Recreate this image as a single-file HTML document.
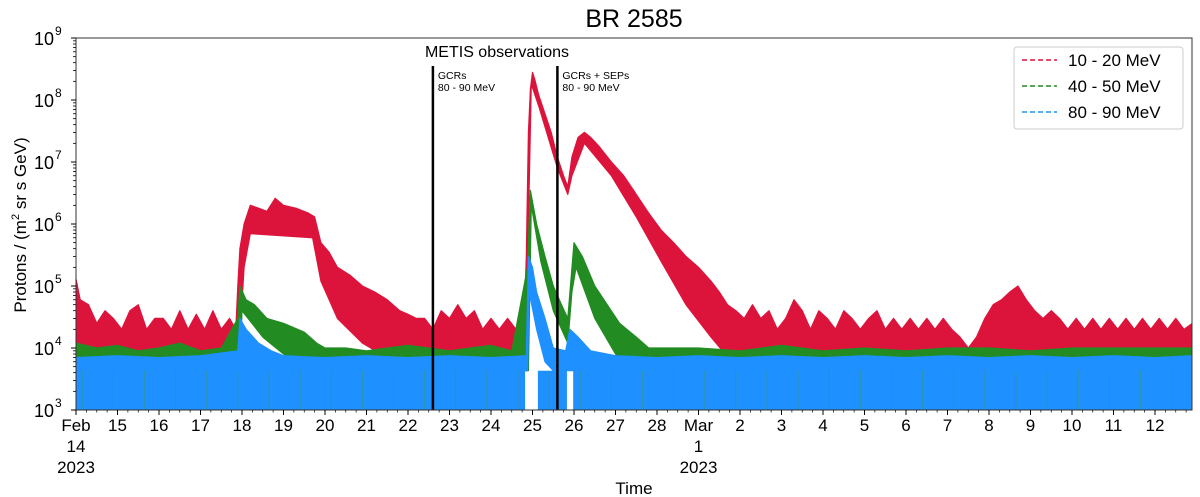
<!DOCTYPE html>
<html><head><meta charset="utf-8">
<style>
html,body{margin:0;padding:0;background:#fff;}
svg{display:block;font-family:"Liberation Sans","DejaVu Sans",sans-serif;}
</style></head>
<body>
<svg id="chart" width="1200" height="497" viewBox="0 0 1200 497" xmlns="http://www.w3.org/2000/svg">
<text x="634" y="27" font-size="25" text-anchor="middle" fill="#000">BR 2585</text>
<g id="plot"></g>
<g id="axes"></g>
<text transform="translate(26,225) rotate(-90)" font-size="17" text-anchor="middle">Protons / (m<tspan font-size="11" dy="-7">2</tspan><tspan dy="7"> sr s GeV)</tspan></text>
<text x="634" y="494" font-size="17" text-anchor="middle">Time</text>
<g>
<rect x="1014" y="47" width="169" height="82" rx="3" fill="#fff" stroke="#ccc" stroke-width="1"/>
<line x1="1022" y1="60" x2="1057" y2="60" stroke="#dc143c" stroke-width="1.5" stroke-dasharray="5,3"/>
<text x="1068" y="66" font-size="17">10 - 20 MeV</text>
<line x1="1022" y1="86" x2="1057" y2="86" stroke="#228b22" stroke-width="1.5" stroke-dasharray="5,3"/>
<text x="1068" y="92" font-size="17">40 - 50 MeV</text>
<line x1="1022" y1="112" x2="1057" y2="112" stroke="#1e90ff" stroke-width="1.5" stroke-dasharray="5,3"/>
<text x="1068" y="118" font-size="17">80 - 90 MeV</text>
</g>
</svg>
<script>
// ---- data (time in days since Feb 14 2023 00:00) ----
const redUpperT = [0,0.1,0.3,0.5,0.7,0.9,1.1,1.3,1.5,1.7,1.9,2.1,2.3,2.5,2.7,2.9,3.1,3.3,3.5,3.7,3.85,3.9,3.95,4.05,4.2,4.4,4.6,4.8,5.0,5.3,5.6,5.75,5.9,6.1,6.3,6.6,6.9,7.2,7.5,7.8,8.0,8.2,8.4,8.6,8.8,9.0,9.2,9.4,9.6,9.8,10.0,10.2,10.4,10.6,10.8,10.85,10.9,10.95,11.0,11.05,11.15,11.3,11.45,11.6,11.75,11.85,11.95,12.1,12.25,12.4,12.6,12.9,13.2,13.5,13.8,14.1,14.4,14.7,15.0,15.3,15.5,15.7,15.9,16.1,16.3,16.5,16.7,16.9,17.1,17.3,17.5,17.7,17.9,18.1,18.3,18.5,18.7,18.9,19.1,19.3,19.5,19.7,19.9,20.1,20.3,20.5,20.7,20.9,21.1,21.3,21.5,21.7,21.9,22.1,22.3,22.5,22.7,22.9,23.1,23.3,23.5,23.7,23.9,24.1,24.3,24.5,24.7,24.9,25.1,25.3,25.5,25.7,25.9,26.1,26.3,26.5,26.7,26.9];
const redUpperV = [1.3e5,6e4,5e4,2.5e4,4e4,3e4,2e4,4e4,5e4,2e4,3e4,3e4,2e4,4e4,2e4,3.5e4,2e4,4e4,2e4,3e4,2e4,1e5,4e5,1e6,2e6,1.8e6,1.6e6,2.6e6,2e6,1.8e6,1.5e6,1.3e6,5e5,3.5e5,2e5,1.5e5,1e5,8e4,6e4,4e4,3.5e4,3e4,3e4,2e4,4e4,3e4,5e4,3e4,4e4,2e4,3e4,2e4,3e4,2e4,2.5e4,3e5,3e7,1.5e8,2.8e8,2.2e8,1.2e8,6e7,3e7,1.2e7,6e6,4e6,1.2e7,2.5e7,3e7,2.5e7,1.8e7,1e7,6e6,3e6,1.5e6,8e5,5e5,3e5,2e5,1.2e5,8e4,5e4,4e4,3e4,5e4,3e4,4e4,2e4,3e4,6e4,4e4,2e4,4e4,3e4,2e4,4e4,3e4,2e4,3e4,4e4,2e4,3e4,2e4,3e4,2e4,3e4,2e4,3e4,2e4,1.5e4,1e4,1.5e4,3e4,5e4,6e4,8e4,1e5,6e4,4e4,3e4,4e4,3e4,2e4,3e4,2e4,3e4,2e4,3e4,2e4,3e4,2e4,3e4,2e4,3e4,2e4,3e4,2e4,2.5e4];
const redLowerT = [0,3.9,4.05,4.2,5.7,5.9,6.3,6.9,7.5,8.0,10.85,10.9,10.97,11.15,11.6,11.85,11.95,12.25,12.9,13.5,14.1,14.7,15.3,15.8,16.0,26.9];
const redLowerV = [4.3e3,4.3e3,2e5,7e5,6e5,1.2e5,3e4,1.2e4,7e3,4.3e3,4.3e3,1e6,1.8e8,8e7,8e6,3e6,6e6,2e7,6e6,1.3e6,2.5e5,5e4,1.5e4,6e3,4.3e3,4.3e3];

const greenUpperT = [0,0.5,1.0,1.5,2.0,2.5,3.0,3.5,3.9,3.95,4.1,4.3,4.6,5.0,5.5,5.8,6.0,6.5,7.0,7.5,8.0,8.5,9.0,9.5,10.0,10.5,10.88,10.95,11.1,11.3,11.5,11.7,11.85,12.0,12.2,12.5,12.8,13.1,13.5,13.8,14.0,15,16,17,18,19,20,21,22,23,24,25,26,26.9];
const greenUpperV = [1.2e4,1e4,1.1e4,9e3,1e4,1.2e4,9e3,1e4,3e4,1e5,6e4,5e4,3e4,2.5e4,1.8e4,1.2e4,1e4,1e4,9e3,1e4,1.1e4,1e4,9e3,1e4,1.1e4,9e3,2e5,3.5e6,1e6,3e5,1e5,5e4,3e4,5e5,3e5,1e5,5e4,2.5e4,1.5e4,1e4,1e4,1e4,9e3,1.1e4,9e3,1e4,9e3,1e4,1e4,9e3,1e4,1e4,1e4,1e4];
const greenLowerT = [0,3.95,4.0,4.5,5.0,5.5,10.9,10.97,11.2,11.5,11.85,11.95,12.05,12.5,13.0,13.3,26.9];
const greenLowerV = [4.3e3,4.3e3,4e4,1.5e4,8e3,4.3e3,4.3e3,2e6,2.5e5,4e4,1.2e4,8e4,2e5,3e4,8e3,4.3e3,4.3e3];

const blueBaseTop = 4.3e3;
const blueGapStart = [10.82,11.83];
const blueGapEnd = [11.13,11.98];
const blueUpperT = [0,1,2,3,3.9,3.95,4.1,4.4,4.7,5,6,7,8,9,10,10.85,10.9,11.0,11.1,11.3,11.5,11.8,11.9,12.1,12.4,13,14,15,16,17,18,19,20,21,22,23,24,25,26,26.9];
const blueUpperV = [7e3,7.5e3,7e3,7.5e3,9e3,3e4,2e4,1.2e4,9e3,7.5e3,7e3,7.5e3,7e3,7.5e3,7e3,7.5e3,3e5,2e5,8e4,3e4,1e4,9e3,2e4,1.5e4,9e3,7.5e3,7e3,7.5e3,7e3,7.5e3,7e3,7.5e3,7e3,7.5e3,7e3,7.5e3,7e3,7.5e3,7e3,7.5e3];
const blueLowerT = [0,10.88,10.92,11.1,11.3,11.5,26.9];
const blueLowerV = [4.3e3,4.3e3,8e4,2e4,6e3,4.3e3,4.3e3];

const markerDays = [8.6,11.6];
const dayLabels = ["15","16","17","18","19","20","21","22","23","24","25","26","27","28","Mar","2","3","4","5","6","7","8","9","10","11","12"];
const yExps = [3,4,5,6,7,8,9];

// ---- axes ----
const X0=76, X1=1192, Y0=38, Y1=410, DAY=41.5;
const xS = d => X0 + d*DAY;
const yS = v => Y1 - (Math.log10(v)-3)*62;
const NS="http://www.w3.org/2000/svg";
const plot=document.getElementById('plot'), axes=document.getElementById('axes');
function mk(tag, attrs, parent){const e=document.createElementNS(NS,tag);for(const k in attrs)e.setAttribute(k,attrs[k]);parent.appendChild(e);return e;}

const defs=mk('defs',{},plot);
const cp=mk('clipPath',{id:'clip'},defs);
mk('rect',{x:X0,y:Y0,width:X1-X0,height:Y1-Y0},cp);
const g=mk('g',{'clip-path':'url(#clip)'},plot);

function band(uT,uV,lT,lV,color,name){
  let d='M'+xS(uT[0])+','+yS(uV[0]);
  for(let i=1;i<uT.length;i++) d+='L'+xS(uT[i]).toFixed(1)+','+yS(uV[i]).toFixed(1);
  for(let i=lT.length-1;i>=0;i--) d+='L'+xS(lT[i]).toFixed(1)+','+yS(lV[i]).toFixed(1);
  d+='Z';
  const p=mk('path',{d:d,fill:color,stroke:color,'stroke-width':1.2,'stroke-linejoin':'round'},g);
  
  
}
band(redUpperT,redUpperV,redLowerT,redLowerV,'#dc143c','series-10-20-mev');
band(greenUpperT,greenUpperV,greenLowerT,greenLowerV,'#228b22','series-40-50-mev');
band(blueUpperT,blueUpperV,blueLowerT,blueLowerV,'#1e90ff','series-80-90-mev');
let segStart=0;
for(let i=0;i<=blueGapStart.length;i++){
  const segEnd = i<blueGapStart.length ? blueGapStart[i] : 26.9;
  const r=mk('rect',{x:xS(segStart),y:yS(blueBaseTop),width:xS(segEnd)-xS(segStart),height:Y1-yS(blueBaseTop),fill:'#1e90ff'},g);
  
  
  if(i<blueGapEnd.length) segStart=blueGapEnd[i];
}
for(let t=0.15;t<26.9;t+=0.75){
  mk('line',{x1:xS(t),x2:xS(t),y1:yS(blueBaseTop),y2:Y1,stroke:'#3c9a3c','stroke-width':0.8,opacity:0.5},g);
}

markerDays.forEach((m,i)=>{
  const l=mk('line',{x1:xS(m),x2:xS(m),y1:66,y2:Y1,stroke:'#000','stroke-width':2.5},plot);
  
  
});
const ann=[["GCRs","80 - 90 MeV",markerDays[0]],["GCRs + SEPs","80 - 90 MeV",markerDays[1]]];
ann.forEach(a=>{
  const t1=mk('text',{x:xS(a[2])+5,y:79,'font-size':10.5},plot); t1.textContent=a[0];
  
  
  const t2=mk('text',{x:xS(a[2])+5,y:91,'font-size':10.5},plot); t2.textContent=a[1];
  
  
});
const mt=mk('text',{x:497,y:57,'font-size':16,'text-anchor':'middle'},plot); mt.textContent='METIS observations';



mk('rect',{x:X0,y:Y0,width:X1-X0,height:Y1-Y0,fill:'none',stroke:'#333','stroke-width':1},axes);

yExps.forEach(e=>{
  const y=yS(Math.pow(10,e));
  mk('line',{x1:X0-5,x2:X0,y1:y,y2:y,stroke:'#000'},axes);
  const t=mk('text',{x:X0-22,y:y+7,'font-size':18,'text-anchor':'end'},axes);
  t.textContent='10';
  
  
  const s=mk('text',{x:X0-21,y:y-3,'font-size':12},axes); s.textContent=String(e);
  if(e<9) for(let k=2;k<10;k++){const yy=yS(k*Math.pow(10,e));mk('line',{x1:X0-3,x2:X0,y1:yy,y2:yy,stroke:'#000','stroke-width':0.8},axes);}
});
for(let d=0;d<=26;d++){
  mk('line',{x1:xS(d),x2:xS(d),y1:Y1,y2:Y1+5,stroke:'#000'},axes);
}
for(let q=0;q<26.9;q+=0.25){const x=xS(q);mk('line',{x1:x,x2:x,y1:Y1,y2:Y1+2.5,stroke:'#000','stroke-width':0.7},axes);}
function lbl(x,y,s){const t=mk('text',{x:x,y:y,'font-size':17,'text-anchor':'middle'},axes);t.textContent=s;
  
  }
lbl(xS(0),431,'Feb'); lbl(xS(0),452,'14'); lbl(xS(0),473,'2023');
dayLabels.forEach((s,i)=>{lbl(xS(i+1),431,s);});
lbl(xS(15),452,'1'); lbl(xS(15),473,'2023');
</script>
</body></html>
